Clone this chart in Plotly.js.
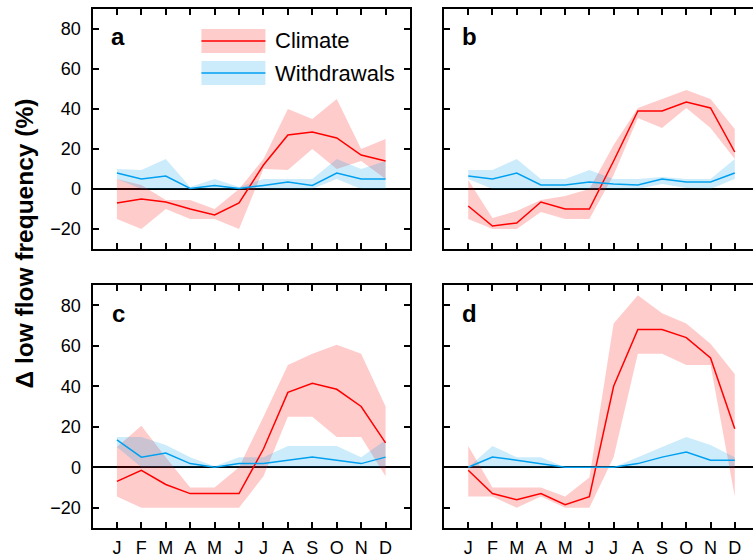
<!DOCTYPE html>
<html>
<head>
<meta charset="utf-8">
<script src="https://cdn.plot.ly/plotly-3.0.1.min.js"></script>
<style>
html,body{margin:0;padding:0;overflow:hidden;background:#fff;}
#plot{width:762px;height:558px;}
</style>
</head>
<body>
<div id="plot"></div>
<script>
// ---- data ----
const monthNum = [1,2,3,4,5,6,7,8,9,10,11,12];
const monthLabels = ['J','F','M','A','M','J','J','A','S','O','N','D'];
const yTicks = [-20,0,20,40,60,80];

// panel a
const climA    = [-7, -5, -6.5, -10, -13, -7, 12, 27, 28.5, 25.5, 17, 14];
const climAHi  = [5, 2, -5.5, -5.5, -10, 0, 15, 40, 35, 45, 20, 25];
const climALo  = [-15, -20, -10, -15, -15, -20, 10, 9.5, 20, 10, 14, 5];
const withA    = [8, 5, 6.5, 0.3, 1.8, 0.3, 1.8, 3.5, 1.8, 8, 5, 5];
const withAHi  = [10, 9.5, 15, 1, 5, 1, 5, 5, 5, 15, 10, 14];
const withALo  = [5, 0, 0, 0, 0, 0, 0, 0, 0, 5, 0, 0];
// panel b
const climB    = [-8.5, -18.5, -17, -6.5, -10, -10, 14, 39, 39, 43.5, 40.5, 18.5];
const climBHi  = [4.5, -14.5, -11, -5.5, -3.5, 0, 22, 40.5, 45, 49.5, 45, 30];
const climBLo  = [-15, -20, -20, -11.5, -15, -15, 7, 35.5, 30.5, 40.5, 30.5, 15];
const withB    = [6.5, 5, 8, 2, 2, 3.5, 2.5, 2, 5, 3.5, 3.5, 8];
const withBHi  = [9.5, 9.5, 15, 5, 5, 9.5, 5, 5, 6, 5, 5, 15];
const withBLo  = [5, 0, 0, 0, 0, 0, 0, 0, 2.5, 0.5, 0, 5];
// panel c
const climC    = [-7, -1.5, -8.5, -13, -13, -13, 9, 37, 41.5, 38.5, 30, 12];
const climCHi  = [10, 20.5, 5, -10, -10, 0, 25, 50.5, 56, 60.5, 56, 30];
const climCLo  = [-14.5, -20, -20, -20, -20, -20, -4.5, 25, 25, 15, 15, -4.5];
const withC    = [13.5, 5, 7, 1.8, 0, 1.8, 1.8, 3.5, 5, 3.5, 1.8, 5];
const withCHi  = [15, 15, 11, 5, 0.5, 5, 5, 10.5, 10.5, 10.5, 5, 13.5];
const withCLo  = [10, 0, 0, 0, 0, 0, 0, 0, 0, 0, 0, 0];
// panel d
const climD    = [-1.5, -13, -16, -13, -18.5, -14.5, 40, 68, 68, 64, 54, 19];
const climDHi  = [10.5, -10, -10, -10, -14.5, -5, 71, 85, 76, 71, 61, 46];
const climDLo  = [-14.5, -14.5, -20, -14.5, -20, -20, 5, 56, 56, 50.5, 50.5, -14.5];
const withD    = [0, 5, 3.5, 1.8, 0, 0, 0, 1.8, 5, 7.5, 3.5, 3.5];
const withDHi  = [0, 10.5, 5, 5, 0, 0, 0, 5, 10, 15, 11, 5];
const withDLo  = [0, 0, 0, 0, 0, 0, 0, 0, 0, 0, 0, 0];

const seriesNames = ['Climate','Withdrawals'];
const panelLetters = ['a','b','c','d'];

// ---- styles ----
const RED = 'rgb(255,0,0)';
const RED_FILL = 'rgba(255,0,0,0.2)';
const BLUE = 'rgb(0,160,240)';
const BLUE_FILL = 'rgba(0,160,235,0.2)';
const FONT = 'Liberation Sans, Arial, Helvetica, sans-serif';

const panels = [
  {clim: climA, hi: climAHi, lo: climALo, w: withA, whi: withAHi, wlo: withALo, xa:'x',  ya:'y'},
  {clim: climB, hi: climBHi, lo: climBLo, w: withB, whi: withBHi, wlo: withBLo, xa:'x2', ya:'y2'},
  {clim: climC, hi: climCHi, lo: climCLo, w: withC, whi: withCHi, wlo: withCLo, xa:'x3', ya:'y3'},
  {clim: climD, hi: climDHi, lo: climDLo, w: withD, whi: withDHi, wlo: withDLo, xa:'x4', ya:'y4'}
];

function band(lo, hi, color, xa, ya) {
  return {
    x: monthNum.concat(monthNum.slice().reverse()),
    y: hi.concat(lo.slice().reverse()),
    type: 'scatter', mode: 'none', fill: 'toself', fillcolor: color,
    hoverinfo: 'skip', showlegend: false, xaxis: xa, yaxis: ya
  };
}
function line(vals, color, name, xa, ya) {
  return {
    x: monthNum, y: vals, type: 'scatter', mode: 'lines', name: name,
    line: {color: color, width: 1.5}, showlegend: false, xaxis: xa, yaxis: ya
  };
}

const traces = [];
panels.forEach(p => {
  traces.push(band(p.lo, p.hi, RED_FILL, p.xa, p.ya));
  traces.push(band(p.wlo, p.whi, BLUE_FILL, p.xa, p.ya));
  traces.push(line(p.clim, RED, seriesNames[0], p.xa, p.ya));
  traces.push(line(p.w, BLUE, seriesNames[1], p.xa, p.ya));
});

const W = 762, H = 558;
const xDomL = [92.5 / W, 410 / W];
const xDomR = [444 / W, 759 / W];
const yDomT = [(H - 249) / H, (H - 9) / H];
const yDomB = [(H - 528) / H, (H - 285) / H];

function xAxis(dom, anchor, showLabels) {
  return {
    domain: dom, anchor: anchor, range: [0, 13],
    tickmode: 'array', tickvals: monthNum, ticktext: monthLabels,
    showticklabels: showLabels, ticks: 'inside', ticklen: 6, tickwidth: 2,
    tickcolor: '#000', showline: true, linecolor: '#000', linewidth: 2,
    mirror: 'ticks', showgrid: false, zeroline: false,
    ticklabelstandoff: 2,
    tickfont: {family: FONT, size: 18, color: '#000'}
  };
}
function yAxis(dom, anchor, showLabels) {
  return {
    domain: dom, anchor: anchor, range: [-30, 90],
    tickmode: 'array', tickvals: yTicks,
    showticklabels: showLabels, ticks: 'inside', ticklen: 6, tickwidth: 2,
    tickcolor: '#000', showline: true, linecolor: '#000', linewidth: 2,
    mirror: 'ticks', showgrid: false,
    zeroline: true, zerolinecolor: '#000', zerolinewidth: 2,
    ticklabelstandoff: 6,
    tickfont: {family: FONT, size: 18, color: '#000'}
  };
}

const annotations = [];
const refs = [['x','y'],['x2','y2'],['x3','y3'],['x4','y4']];
panelLetters.forEach((L, i) => {
  annotations.push({
    xref: refs[i][0], yref: refs[i][1], x: 1.05, y: 76,
    text: L, showarrow: false, xanchor: 'center', yanchor: 'middle',
    font: {family: FONT, size: 24, color: '#000', weight: 'bold'}
  });
});
// legend labels (panel a)
annotations.push({xref:'x', yref:'y', x: 7.37, y: 74, text: seriesNames[0], showarrow:false,
  xanchor:'left', yanchor:'middle', font:{family: FONT, size: 22, color:'#000'}});
annotations.push({xref:'x', yref:'y', x: 7.37, y: 58, text: seriesNames[1], showarrow:false,
  xanchor:'left', yanchor:'middle', font:{family: FONT, size: 22, color:'#000'}});
// y-axis title
annotations.push({xref:'paper', yref:'paper', x: 24 / W, y: (H - 243.5) / H,
  text: 'Δ low flow frequency (%)', showarrow:false, textangle: -90,
  xanchor:'center', yanchor:'middle',
  font:{family: FONT, size: 24.5, color:'#000', weight:'bold'}});

const shapes = [
  {type:'rect', xref:'x', yref:'y', x0: 4.46, x1: 7.08, y0: 68, y1: 80, fillcolor: RED_FILL, line:{width:0}},
  {type:'line', xref:'x', yref:'y', x0: 4.46, x1: 7.08, y0: 74, y1: 74, line:{color: RED, width:1.5}},
  {type:'rect', xref:'x', yref:'y', x0: 4.46, x1: 7.08, y0: 52, y1: 64, fillcolor: BLUE_FILL, line:{width:0}},
  {type:'line', xref:'x', yref:'y', x0: 4.46, x1: 7.08, y0: 58, y1: 58, line:{color: BLUE, width:1.5}}
];

const layout = {
  width: W, height: H, autosize: false,
  margin: {l:0, r:0, t:0, b:0, pad:0},
  paper_bgcolor: '#fff', plot_bgcolor: '#fff',
  showlegend: false,
  xaxis:  xAxis(xDomL, 'y',  false),
  yaxis:  yAxis(yDomT, 'x',  true),
  xaxis2: xAxis(xDomR, 'y2', false),
  yaxis2: yAxis(yDomT, 'x2', false),
  xaxis3: xAxis(xDomL, 'y3', true),
  yaxis3: yAxis(yDomB, 'x3', true),
  xaxis4: xAxis(xDomR, 'y4', true),
  yaxis4: yAxis(yDomB, 'x4', false),
  annotations: annotations,
  shapes: shapes
};

Plotly.newPlot('plot', traces, layout, {displayModeBar: false, staticPlot: true});
</script>
</body>
</html>
